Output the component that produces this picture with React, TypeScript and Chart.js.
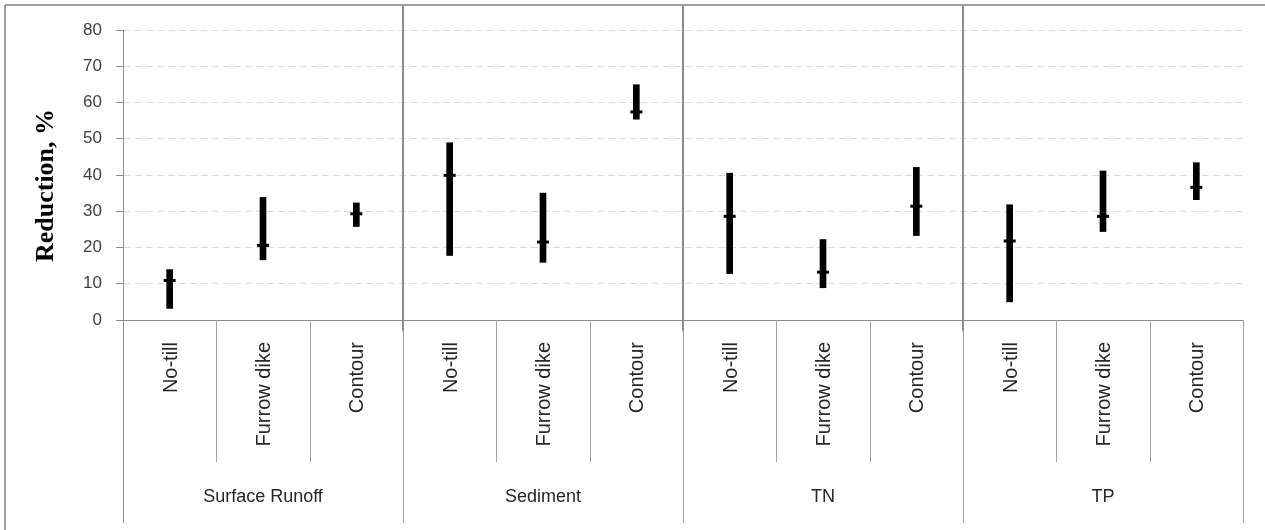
import React, { useEffect, useRef } from "react";
import { Chart, registerables } from "chart.js";

Chart.register(...registerables);

const groups = ["Surface Runoff", "Sediment", "TN", "TP"];
const treatments = ["No-till", "Furrow dike", "Contour"];
const lowValues = [3.2, 16.6, 25.8, 17.8, 15.9, 55.4, 12.8, 8.9, 23.3, 5.0, 24.4, 33.2];
const highValues = [13.9, 33.8, 32.3, 48.9, 35.0, 64.9, 40.5, 22.2, 42.1, 31.8, 41.1, 43.4];
const midValues = [10.9, 20.6, 29.3, 39.9, 21.5, 57.4, 28.6, 13.2, 31.4, 21.8, 28.6, 36.6];
const yMin = 0;
const yMax = 80;
const yStep = 10;
const yTitle = "Reduction, %";

const categoryLabels = groups.flatMap((g) => treatments.map((t) => t));

const overlayPlugin = {
  id: "overlay",
  afterDraw(chart: any) {
    const { ctx, chartArea: ca, scales } = chart;
    const x = scales.x;
    const n = categoryLabels.length;
    const cw = (x.right - x.left) / n;
    const per = treatments.length;
    const axisBottom = ca.bottom;
    ctx.save();

    // outer frame (top & left)
    ctx.strokeStyle = "#a0a0a0";
    ctx.lineWidth = 2;
    ctx.beginPath();
    ctx.moveTo(5, 5);
    ctx.lineTo(chart.width, 5);
    ctx.moveTo(5, 5);
    ctx.lineTo(5, chart.height);
    ctx.stroke();

    // x axis line
    ctx.strokeStyle = "#8c8c8c";
    ctx.lineWidth = 1;
    ctx.beginPath();
    ctx.moveTo(ca.left, Math.round(axisBottom) + 0.5);
    ctx.lineTo(ca.right, Math.round(axisBottom) + 0.5);
    ctx.stroke();

    // category boundary lines (below axis)
    ctx.strokeStyle = "#a0a0a0";
    ctx.beginPath();
    for (let i = 0; i <= n; i++) {
      const bx = Math.round(x.getPixelForValue(Math.min(i, n - 1)) + (i === n ? cw / 2 : -cw / 2)) + 0.5;
      const isGroup = i % per === 0;
      ctx.moveTo(bx, axisBottom);
      ctx.lineTo(bx, isGroup ? axisBottom + 203 : axisBottom + 142);
    }
    ctx.stroke();

    // thick group separators inside plot
    ctx.strokeStyle = "#8c8c8c";
    ctx.lineWidth = 2;
    ctx.beginPath();
    for (let g = 1; g < groups.length; g++) {
      const bx = Math.round(x.getPixelForValue(g * per) - cw / 2);
      ctx.moveTo(bx, 5);
      ctx.lineTo(bx, axisBottom + 11);
    }
    ctx.stroke();

    // treatment labels (rotated)
    ctx.fillStyle = "#262626";
    ctx.font = '20px "Liberation Sans"';
    ctx.textAlign = "right";
    ctx.textBaseline = "alphabetic";
    for (let i = 0; i < n; i++) {
      const cx = x.getPixelForValue(i);
      ctx.save();
      ctx.translate(cx + 7, axisBottom + 22);
      ctx.rotate(-Math.PI / 2);
      ctx.fillText(categoryLabels[i], 0, 0);
      ctx.restore();
    }

    // group labels
    ctx.font = '18px "Liberation Sans"';
    ctx.textAlign = "center";
    ctx.textBaseline = "middle";
    for (let g = 0; g < groups.length; g++) {
      const gx = (x.getPixelForValue(g * per) + x.getPixelForValue(g * per + per - 1)) / 2;
      ctx.fillText(groups[g], gx, axisBottom + 177);
    }

    // y-axis title
    ctx.fillStyle = "#000";
    ctx.font = 'bold 26px "Liberation Serif"';
    ctx.textAlign = "center";
    ctx.textBaseline = "alphabetic";
    ctx.save();
    ctx.translate(52.5, (ca.top + ca.bottom) / 2 + 10.5);
    ctx.rotate(-Math.PI / 2);
    ctx.fillText(yTitle, 0, 0);
    ctx.restore();

    // y axis extension below plot
    ctx.strokeStyle = "#8c8c8c";
    ctx.lineWidth = 1;
    ctx.beginPath();
    ctx.moveTo(Math.round(ca.left) + 0.5, ca.top);
    ctx.lineTo(Math.round(ca.left) + 0.5, axisBottom + 203);
    ctx.stroke();

    ctx.restore();
  },
};

export default function App() {
  const canvasRef = useRef<HTMLCanvasElement | null>(null);

  useEffect(() => {
    document.body.style.margin = "0";
    const canvas = canvasRef.current;
    if (!canvas) return;
    const chart = new Chart(canvas, {
      type: "bar",
      data: {
        labels: categoryLabels,
        datasets: [
          {
            type: "bar",
            label: "Range",
            data: lowValues.map((lo, i) => [lo, highValues[i]]),
            backgroundColor: "#000000",
            borderWidth: 0,
            barThickness: 6,
            order: 2,
          } as any,
          {
            type: "line",
            label: "Mean",
            data: midValues,
            showLine: false,
            pointStyle: "line",
            pointRadius: 6,
            pointHoverRadius: 6,
            pointBorderWidth: 3,
            pointHoverBorderWidth: 3,
            borderColor: "#000000",
            backgroundColor: "#000000",
            order: 1,
          } as any,
        ],
      },
      options: {
        responsive: false,
        animation: false,
        events: [],
        layout: { padding: { top: 30, right: 22, bottom: 0, left: 0 } },
        plugins: {
          legend: { display: false },
          tooltip: { enabled: false },
        },
        scales: {
          x: {
            type: "category",
            offset: true,
            grid: { display: false },
            border: { display: false },
            ticks: { display: false },
            afterFit: (s: any) => {
              s.height = 210;
            },
          },
          y: {
            min: yMin,
            max: yMax,
            ticks: {
              stepSize: yStep,
              color: "#404040",
              font: { family: '"Liberation Sans"', size: 17 },
              padding: 14,
            },
            grid: {
              color: "#d9d9d9",
              lineWidth: 1,
              tickColor: "#8c8c8c",
              tickLength: 7,
              tickWidth: 1,
              tickBorderDash: [],
            },
            border: { display: true, color: "#8c8c8c", width: 1, dash: [7, 4] },
            afterFit: (s: any) => {
              s.width = 123;
            },
          },
        },
      } as any,
      plugins: [overlayPlugin],
    });
    return () => chart.destroy();
  }, []);

  return (
    <div style={{ width: 1265, height: 530, overflow: "hidden", background: "#fff" }}>
      <canvas ref={canvasRef} width={1265} height={530} style={{ display: "block" }} />
    </div>
  );
}
